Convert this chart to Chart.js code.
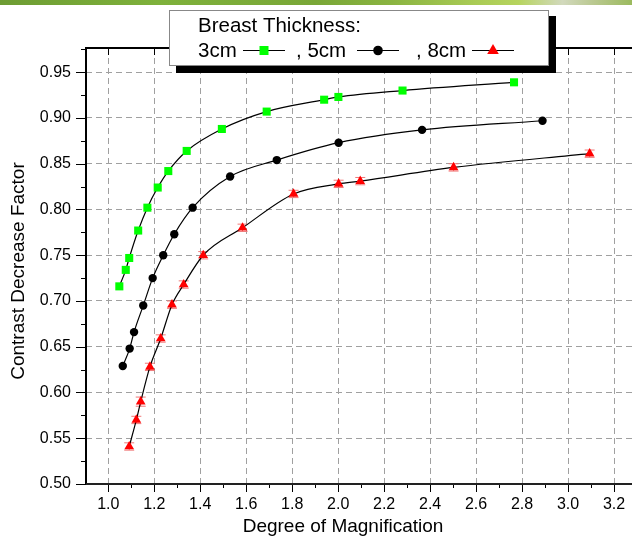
<!DOCTYPE html>
<html>
<head>
<meta charset="utf-8">
<script src="https://cdn.jsdelivr.net/npm/chart.js@4.4.1/dist/chart.umd.min.js"></script>
<style>
  html,body{margin:0;padding:0;background:#fff;overflow:hidden}
  #wrap{position:relative;width:645px;height:541px}
  #band{position:absolute;left:0;top:0;width:632px;height:5px;z-index:2;
    background:linear-gradient(to right,#6d9c33 0%,#7eb13b 25%,#79a737 50%,#8ab441 62%,#a9cb55 75%,#b6d45e 82%,#d2d9bd 89%,#b9c88f 94%,#9bba5e 100%)}
</style>
</head>
<body>
<div id="wrap"><div id="band"></div><canvas id="c"></canvas></div>
<script>
// Contrast decrease factor vs. degree of magnification, per breast thickness
const x3cm = [1.048, 1.076, 1.091, 1.130, 1.170, 1.215, 1.261, 1.341, 1.494, 1.689, 1.939, 2.001, 2.280, 2.765];
const y3cm = [0.716, 0.734, 0.747, 0.777, 0.802, 0.824, 0.842, 0.864, 0.888, 0.907, 0.920, 0.923, 0.930, 0.939];

const x5cm = [1.063, 1.093, 1.112, 1.152, 1.193, 1.239, 1.287, 1.367, 1.530, 1.733, 2.002, 2.365, 2.889];
const y5cm = [0.629, 0.648, 0.666, 0.695, 0.725, 0.750, 0.773, 0.802, 0.836, 0.854, 0.873, 0.887, 0.897];

const x8cm = [1.091, 1.122, 1.141, 1.181, 1.228, 1.277, 1.328, 1.413, 1.584, 1.806, 2.002, 2.096, 2.502, 3.094];
const y8cm = [0.541, 0.570, 0.590, 0.628, 0.659, 0.696, 0.718, 0.750, 0.780, 0.817, 0.828, 0.831, 0.846, 0.861];
const e8cm = [0.004, 0.004, 0.005, 0.004, 0.004, 0.004, 0.004, 0.004, 0.004, 0.004, 0.004, 0.004, 0.004, 0.004];

const legendTitle = 'Breast Thickness:';
const legendNames = ['3cm', ', 5cm', ', 8cm'];
const xTitle = 'Degree of Magnification';
const yTitle = 'Contrast Decrease Factor';

const xTicksMajor = 0.2, yTicksMajor = 0.05;
const FONT = '"Liberation Sans", Arial, sans-serif';

const pts = (xs, ys) => xs.map((x, i) => ({x, y: ys[i]}));

// axis frame + major/minor tick marks (Chart.js has no minor ticks)
const framePlugin = {
  id: 'frame',
  afterDatasetsDraw(chart){
    const {ctx, chartArea: a, scales: {x, y}} = chart;
    ctx.save();
    ctx.strokeStyle = '#000';
    ctx.lineWidth = 1;
    for(let v = 0.5; v <= y.max + 1e-9; v += yTicksMajor/2){
      const p = Math.round(y.getPixelForValue(v)) + 0.5;
      const major = Math.abs(v/yTicksMajor - Math.round(v/yTicksMajor)) < 1e-6;
      ctx.beginPath(); ctx.moveTo(a.left - (major ? 10 : 5), p); ctx.lineTo(a.left, p); ctx.stroke();
    }
    for(let v = 1.0; v <= x.max + 1e-9; v += xTicksMajor/2){
      const p = Math.round(x.getPixelForValue(v)) + 0.5;
      const major = Math.abs(v/xTicksMajor - Math.round(v/xTicksMajor)) < 1e-6;
      ctx.beginPath(); ctx.moveTo(p, a.bottom); ctx.lineTo(p, a.bottom + (major ? 8 : 4)); ctx.stroke();
      if(major){ ctx.beginPath(); ctx.moveTo(p, a.top); ctx.lineTo(p, a.top + 7); ctx.stroke(); }
    }
    ctx.lineWidth = 2;
    ctx.beginPath(); ctx.moveTo(a.left, a.top); ctx.lineTo(a.right, a.top); ctx.stroke();
    ctx.beginPath(); ctx.moveTo(a.left, a.top - 1); ctx.lineTo(a.left, a.bottom + 1); ctx.stroke();
    ctx.strokeStyle = '#222';
    ctx.beginPath(); ctx.moveTo(a.left, a.bottom); ctx.lineTo(a.right, a.bottom); ctx.stroke();

    // axis titles (the original sits a bit left of the plot centre)
    ctx.fillStyle = '#000';
    ctx.font = '19px ' + FONT;
    ctx.textAlign = 'center'; ctx.textBaseline = 'middle';
    ctx.fillText(xTitle, 343, 527);
    ctx.translate(18.5, 271);
    ctx.rotate(-Math.PI/2);
    ctx.fillText(yTitle, 0, 0);
    ctx.restore();
  }
};

// pink error bars under the red triangles
const errPlugin = {
  id: 'errbars',
  beforeDatasetsDraw(chart){
    const {ctx, scales: {x, y}} = chart;
    ctx.save();
    ctx.strokeStyle = '#f07878';
    ctx.lineWidth = 1;
    x8cm.forEach((xv, i) => {
      const px = x.getPixelForValue(xv);
      const t = y.getPixelForValue(y8cm[i] + e8cm[i]), b = y.getPixelForValue(y8cm[i] - e8cm[i]);
      ctx.beginPath();
      ctx.moveTo(px, t); ctx.lineTo(px, b);
      ctx.moveTo(px - 5, t); ctx.lineTo(px + 5, t);
      ctx.moveTo(px - 5, b); ctx.lineTo(px + 5, b);
      ctx.stroke();
    });
    ctx.restore();
  }
};

function marker(ctx, kind, cx, cy){
  ctx.beginPath();
  if(kind === 'rect'){ ctx.fillStyle = '#00ff00'; ctx.fillRect(cx - 4.5, cy - 4.5, 9, 9); return; }
  if(kind === 'circle'){ ctx.fillStyle = '#000'; ctx.arc(cx, cy, 4.8, 0, Math.PI*2); ctx.fill(); return; }
  ctx.fillStyle = '#ff0000';
  ctx.moveTo(cx, cy - 6.5); ctx.lineTo(cx + 5.8, cy + 3.5); ctx.lineTo(cx - 5.8, cy + 3.5); ctx.closePath(); ctx.fill();
}

// boxed legend with heavy drop shadow, like the Origin export
const legendPlugin = {
  id: 'boxLegend',
  afterDraw(chart){
    const ctx = chart.ctx;
    ctx.save();
    ctx.fillStyle = '#000';
    ctx.fillRect(176, 65, 380, 8);
    ctx.fillRect(549, 16, 7, 57);
    ctx.fillStyle = '#fff';
    ctx.fillRect(170, 10, 379, 56);
    ctx.strokeStyle = '#888';
    ctx.lineWidth = 1;
    ctx.strokeRect(169.5, 10.5, 379, 55);
    ctx.fillStyle = '#000';
    ctx.font = '20.5px ' + FONT;
    ctx.textBaseline = 'alphabetic';
    ctx.fillText(legendTitle, 198, 32);
    const kinds = ['rect', 'circle', 'triangle'];
    const textX = [198, 296, 416], lineX = [243, 357, 472];
    legendNames.forEach((n, i) => {
      ctx.fillStyle = '#000';
      ctx.fillText(n, textX[i], 57);
      ctx.strokeStyle = '#000'; ctx.lineWidth = 1.2;
      ctx.beginPath(); ctx.moveTo(lineX[i], 50.5); ctx.lineTo(lineX[i] + 42, 50.5); ctx.stroke();
      marker(ctx, kinds[i], lineX[i] + 21, 50.5);
    });
    ctx.restore();
  }
};

const common = {borderColor:'#000', borderWidth:1.2, showLine:true, cubicInterpolationMode:'monotone'};

new Chart(document.getElementById('c'), {
  type: 'scatter',
  data: {datasets: [
    {...common, label:'3cm', data: pts(x3cm, y3cm), pointStyle:'rect', pointRadius:5.7,
     pointBackgroundColor:'#00ff00', pointBorderColor:'#00ff00', pointBorderWidth:0},
    {...common, label:'5cm', data: pts(x5cm, y5cm), pointStyle:'circle', pointRadius:4.2,
     pointBackgroundColor:'#000', pointBorderColor:'#000', pointBorderWidth:0},
    {...common, label:'8cm', data: pts(x8cm, y8cm), pointStyle:'triangle', pointRadius:5.6,
     pointBackgroundColor:'#ff0000', pointBorderColor:'#ff0000', pointBorderWidth:0}
  ]},
  options: {
    responsive:true, maintainAspectRatio:false, animation:false,
    layout:{padding:{top:48, right:8, left:0, bottom:0}},
    plugins:{legend:{display:false}, tooltip:{enabled:false}},
    scales:{
      x:{type:'linear', min:0.903, max:3.3,
         afterFit:s=>{s.height = 57;},
         ticks:{stepSize:0.2, includeBounds:false, padding:11, color:'#000',
                font:{family:FONT, size:16}, callback:v=>v.toFixed(1)},
         grid:{color:'#a0a0a0', lineWidth:1, drawTicks:false},
         border:{display:false, dash:[6,4]}},
      y:{min:0.5, max:0.9765,
         afterFit:s=>{s.width = 86;},
         ticks:{stepSize:0.05, includeBounds:false, padding:15, color:'#000',
                font:{family:FONT, size:16}, callback:v=>v.toFixed(2)},
         grid:{color:'#a0a0a0', lineWidth:1, drawTicks:false},
         border:{display:false, dash:[6,4]}}
    }
  },
  plugins:[errPlugin, framePlugin, legendPlugin]
});
</script>
</body>
</html>
